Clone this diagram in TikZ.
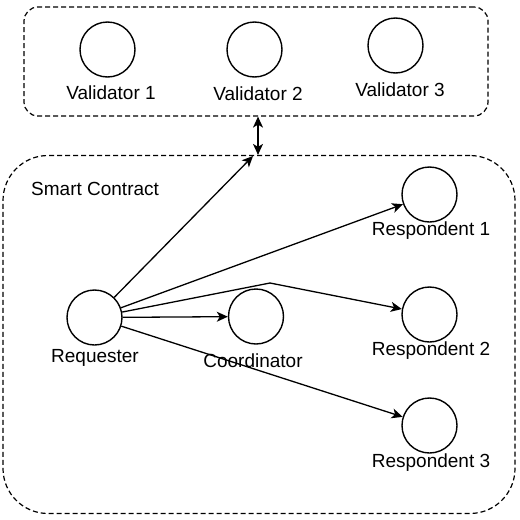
\documentclass[tikz,border=0pt]{standalone}
\usepackage{fontspec}
\setmainfont{Liberation Sans}
\usetikzlibrary{arrows.meta}
\begin{document}
\begin{tikzpicture}[x=1pt,y=-1pt,
  every node/.style={font=\fontsize{19}{22}\selectfont},
  agent/.style={draw, circle, line width=1.4pt, minimum size=55pt, inner sep=0pt},
  lbl/.style={anchor=base, inner sep=0pt},
  grp/.style={draw, dashed, dash pattern=on 5pt off 3pt, line width=1.2pt, rectangle, inner sep=0pt},
  conn/.style={line width=1.3pt, -{Stealth[length=11pt,width=10pt,inset=3pt]}}
]
\useasboundingbox (0,0) rectangle (520,520);
% groups
\node[grp, rounded corners=14pt, minimum width=464pt, minimum height=109pt] (top) at (256,61.5) {};
\node[grp, rounded corners=45pt, minimum width=512pt, minimum height=358pt] (sc) at (259,334.5) {};
\node[lbl, anchor=base west] (sclbl) at (31,195) {Smart Contract};
\coordinate (sctop) at (253,156);
% validators
\node[agent] (v1) at (107.5,49.5) {};
\node[agent] (v2) at (254.5,49.5) {};
\node[agent] (v3) at (395.5,45.5) {};
\node[lbl] (v1l) at (111,99) {Validator 1};
\node[lbl] (v2l) at (258,100) {Validator 2};
\node[lbl] (v3l) at (400,96) {Validator 3};
% contract members
\node[agent] (req) at (94.5,317.5) {};
\node[agent] (coord) at (256,316.5) {};
\node[agent] (r1) at (429.5,194.5) {};
\node[agent] (r2) at (429.5,314.5) {};
\node[agent] (r3) at (429.5,425.5) {};
\node[lbl] (reql) at (95,362) {Requester};
\node[lbl] (coordl) at (253,367) {Coordinator};
\node[lbl] (r1l) at (431,235) {Respondent 1};
\node[lbl] (r2l) at (431,355) {Respondent 2};
\node[lbl] (r3l) at (431,467) {Respondent 3};
% connectors
\draw[conn, {Stealth[length=11pt,width=10pt,inset=3pt]}-{Stealth[length=11pt,width=10pt,inset=3pt]}] ([xshift=2pt]top.south) -- ([xshift=2pt]top.south |- sc.north);
\draw[conn] (req) -- (sctop);
\draw[conn] (req) -- (r1);
\draw[conn] (req) -- (270,283) -- (r2);
\draw[conn] (req) -- (coord);
\draw[conn] (req) -- (r3);
\end{tikzpicture}
\end{document}
